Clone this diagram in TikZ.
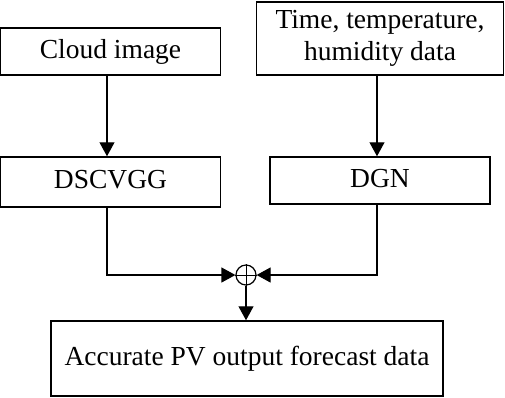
\documentclass[tikz,border=0pt]{standalone}
\usepackage{fontspec}
\setmainfont{Liberation Serif}
\usetikzlibrary{arrows.meta}
\begin{document}
\begin{tikzpicture}[x=1pt,y=-1pt,
  box/.style={draw,line width=1.5pt,inner sep=0pt,font=\fontsize{27.5}{32}\selectfont},
  one/.style={text height=19pt,text depth=6pt},
  conn/.style={line width=1.2pt,-{Triangle[length=14pt,width=15pt]}}]
\useasboundingbox (0,0) rectangle (505,397);
\node[box,one,minimum width=220pt,minimum height=47pt] (cloud) at (110.5,51.5) {Cloud image};
\node[box,minimum width=247pt,minimum height=73pt,align=center] (time) at (380,38.5) {Time, temperature,\\humidity data};
\node[box,one,minimum width=220pt,minimum height=50pt] (dsc) at (110.5,182) {DSCVGG};
\node[box,one,minimum width=220pt,minimum height=47pt] (dgn) at (380,180.5) {DGN};
\node[draw,circle,line width=1.2pt,minimum size=20pt,inner sep=0pt] (sum) at (246,275) {};
\draw[line width=1pt] (sum.north) -- (sum.south) (sum.west) -- (sum.east);
\node[box,one,minimum width=392pt,minimum height=75pt] (out) at (247,358.5) {Accurate PV output forecast data};
\coordinate (c1) at (107,75);
\coordinate (t1) at (377,75);
\draw[conn] (cloud.south -| c1) -- (dsc.north -| c1);
\draw[conn] (time.south -| t1) -- (dgn.north -| t1);
\draw[conn] (dsc.south -| c1) |- (sum.west);
\draw[conn] (dgn.south -| t1) |- (sum.east);
\draw[conn] (sum.south) -- (out.north -| sum);
\end{tikzpicture}
\end{document}
